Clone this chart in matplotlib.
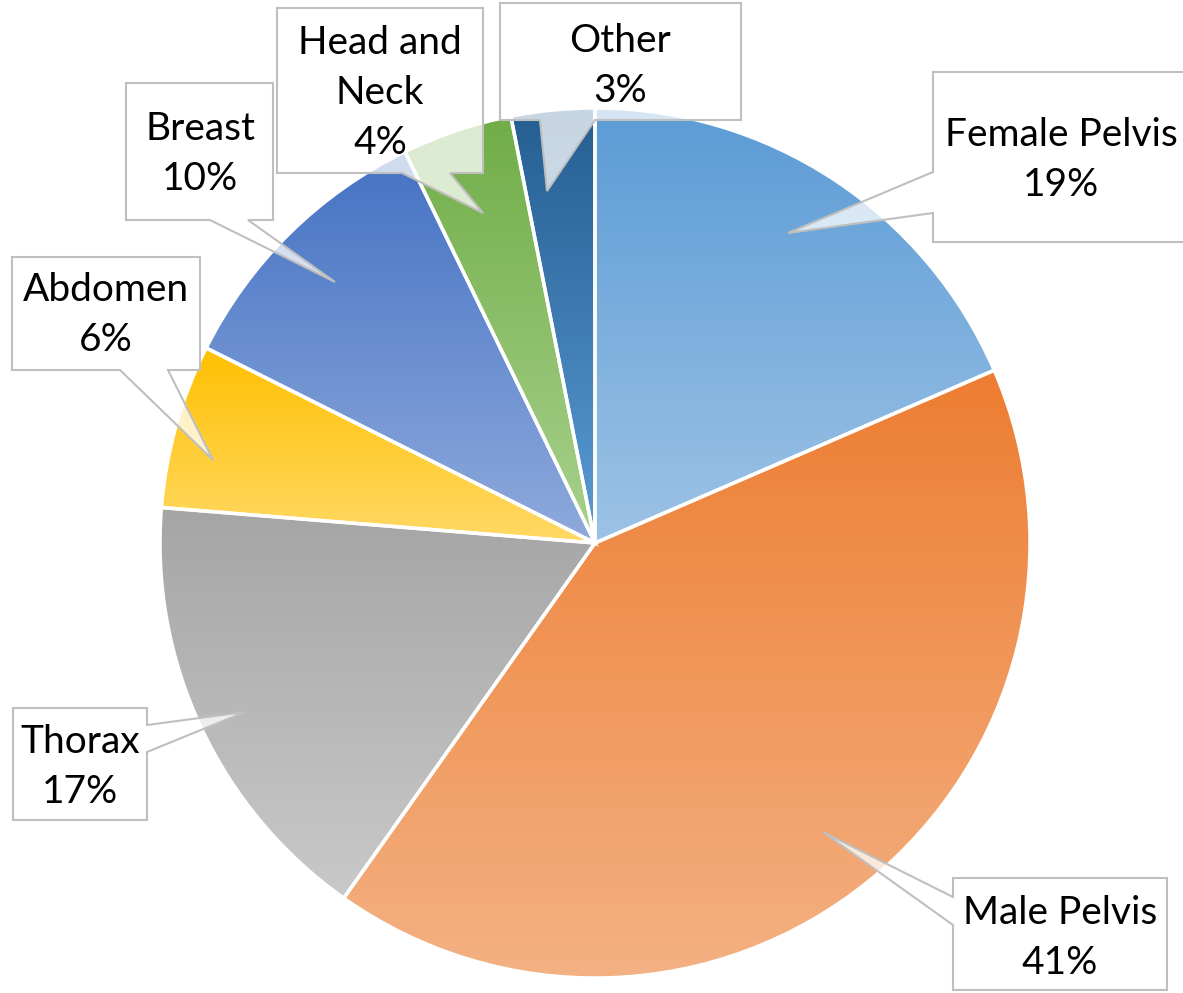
import numpy as np
import matplotlib.pyplot as plt
from matplotlib.patches import Wedge, Polygon

# chart data
labels = ['Female Pelvis', 'Male Pelvis', 'Thorax', 'Abdomen', 'Breast', 'Head and\nNeck', 'Other']
values = [18.5, 41.3, 16.5, 6.1, 10.4, 4.1, 3.1]
pct_text = ['19%', '41%', '17%', '6%', '10%', '4%', '3%']

# gradient colours (top -> bottom of each slice)
top_colors = ['#5B9BD5', '#ED7D31', '#A5A5A5', '#FFC000', '#4472C4', '#70AD47', '#255E91']
bottom_colors = ['#9DC3E6', '#F4B183', '#C9C9C9', '#FFD966', '#8FAADC', '#A9D18E', '#5B9BD5']

# layout in image pixels
W, H = 1183, 993
cx, cy, R = 595, 543, 435

# callouts: box (x0, y0, x1, y1), side with pointer, base span on that side, tip
boxes = [(933, 72, 1190, 242), (953, 878, 1167, 990), (13, 708, 147, 820),
         (12, 257, 200, 370), (126, 83, 273, 220), (277, 8, 483, 173), (500, 3, 741, 120)]
sides = ['left', 'left', 'right', 'bottom', 'bottom', 'bottom', 'bottom']
bases = [(172, 213), (897, 925), (725, 752), (120, 168), (210, 248), (402, 450), (540, 595)]
tips = [(788, 233), (823, 832), (245, 712), (213, 460), (335, 282), (483, 213), (547, 191)]
text_pos = [(1061, 160), (1060, 938), (80, 767), (106, 315), (200, 154), (380, 93), (620, 66)]


def px(x, y):
    return ((x - cx) / R, (cy - y) / R)


def callout_poly(box, side, base, tip):
    x0, y0, x1, y1 = box
    a, b = base
    if side == 'bottom':
        pts = [(x0, y0), (x1, y0), (x1, y1), (b, y1), tip, (a, y1), (x0, y1)]
    elif side == 'left':
        pts = [(x0, y0), (x1, y0), (x1, y1), (x0, y1), (x0, b), tip, (x0, a)]
    else:
        pts = [(x0, y0), (x1, y0), (x1, a), tip, (x1, b), (x1, y1), (x0, y1)]
    return [px(*p) for p in pts]


def hex2rgb(h):
    h = h.lstrip('#')
    return np.array([int(h[i:i + 2], 16) for i in (0, 2, 4)]) / 255.0


plt.rcParams['font.family'] = ['Lato', 'DejaVu Sans']

fig = plt.figure(figsize=(W / 100, H / 100), dpi=100)
ax = fig.add_axes([0, 0, 1, 1])
ax.set_xlim((0 - cx) / R, (W - cx) / R)
ax.set_ylim((cy - H) / R, cy / R)
ax.set_aspect('equal')
ax.axis('off')

total = float(sum(values))
angle = 90.0
for i, v in enumerate(values):
    t2 = angle
    t1 = angle - 360.0 * v / total
    angle = t1
    w = Wedge((0, 0), 1.0, t1, t2, facecolor='none', edgecolor='none')
    ax.add_patch(w)
    th = np.radians(np.linspace(t1, t2, 200))
    xs = np.concatenate([[0], np.cos(th)])
    ys = np.concatenate([[0], np.sin(th)])
    c_top = hex2rgb(top_colors[i])
    c_bot = hex2rgb(bottom_colors[i])
    f = np.linspace(0, 1, 256)[:, None]
    grad = (c_top[None, :] * (1 - f) + c_bot[None, :] * f)[:, None, :]
    im = ax.imshow(grad, extent=(xs.min(), xs.max(), ys.min(), ys.max()), origin='upper',
                   aspect='auto', interpolation='bilinear', zorder=1)
    im.set_clip_path(w)
    ax.add_patch(Wedge((0, 0), 1.0, t1, t2, facecolor='none', edgecolor='white',
                       linewidth=2.5, zorder=2))

for i in range(len(labels)):
    poly = Polygon(callout_poly(boxes[i], sides[i], bases[i], tips[i]), closed=True,
                   facecolor=(1, 1, 1, 0.75), edgecolor='#BFBFBF', linewidth=1.5, zorder=3)
    ax.add_patch(poly)
    tx, ty = px(*text_pos[i])
    ax.text(tx, ty, labels[i] + '\n' + pct_text[i], ha='center', va='center',
            fontsize=28, linespacing=1.5, color='black', zorder=4)

fig.savefig('out.png', dpi=100)
